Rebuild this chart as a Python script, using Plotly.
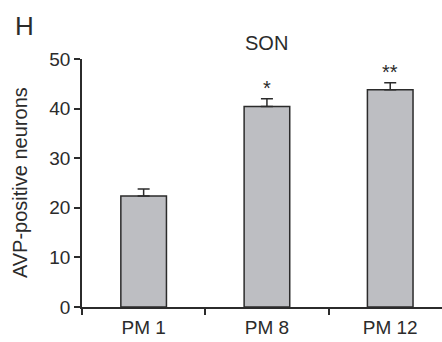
import plotly.graph_objects as go

categories = ["PM 1", "PM 8", "PM 12"]
values = [22.4, 40.4, 43.8]
errors = [1.4, 1.6, 1.4]
significance = ["", "*", "**"]
y_ticks = [0, 10, 20, 30, 40, 50]

axis_color = "#2b2b2b"
font_family = "Liberation Sans, Arial, Helvetica, sans-serif"

fig = go.Figure()
fig.add_trace(go.Bar(
    x=categories, y=values,
    width=0.37,
    marker=dict(color="#bdbec2", line=dict(color=axis_color, width=1.5)),
    error_y=dict(type="data", symmetric=False, array=errors,
                 arrayminus=[0] * len(errors),
                 color=axis_color, thickness=1.5, width=6),
))

for c, v, e, s in zip(categories, values, errors, significance):
    if s:
        fig.add_annotation(x=c, y=v + e, text=s, showarrow=False,
                           yanchor="bottom", yshift=-2,
                           font=dict(size=20, color=axis_color, family=font_family))

fig.add_annotation(x="PM 8", y=1.066, yref="paper", text="SON", showarrow=False,
                   yanchor="middle", font=dict(size=20, color=axis_color, family=font_family))
fig.add_annotation(x=-0.192, y=1.135, xref="paper", yref="paper", text="H", showarrow=False,
                   xanchor="left", yanchor="middle",
                   font=dict(size=26, color=axis_color, family=font_family))
fig.add_annotation(x=-0.172, y=0.5, xref="paper", yref="paper", text="AVP-positive neurons",
                   showarrow=False, textangle=-90, xanchor="center", yanchor="middle",
                   font=dict(size=20, color=axis_color, family=font_family))

fig.update_layout(
    width=442, height=342,
    margin=dict(l=82, r=0, t=59, b=35),
    paper_bgcolor="white", plot_bgcolor="white",
    showlegend=False,
    font=dict(family=font_family, size=19, color=axis_color),
    xaxis=dict(type="category", range=[-0.5, 2.42], tickson="boundaries",
               ticks="outside", ticklen=6, tickwidth=1.5, tickcolor=axis_color,
               showline=True, linecolor=axis_color, linewidth=1.5,
               showgrid=False, zeroline=False, ticklabelstandoff=2,
               tickfont=dict(size=19, color=axis_color)),
    yaxis=dict(range=[0, 50], tickvals=y_ticks,
               ticks="outside", ticklen=6, tickwidth=1.5, tickcolor=axis_color,
               showline=True, linecolor=axis_color, linewidth=1.5,
               showgrid=False, zeroline=False,
               tickfont=dict(size=19, color=axis_color)),
)

fig.write_html("out.html")
